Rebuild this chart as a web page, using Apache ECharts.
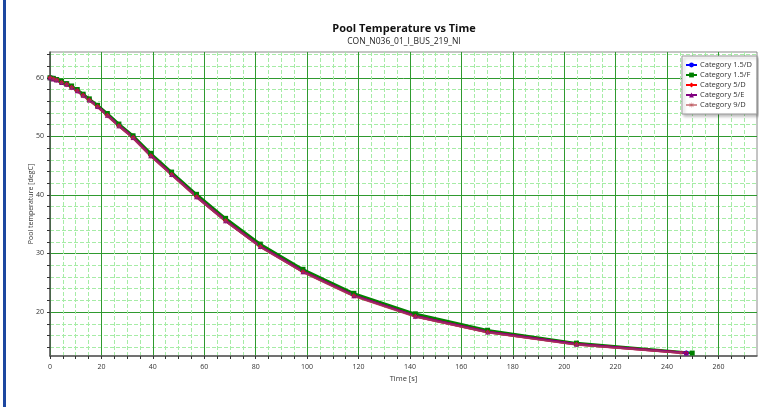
<!DOCTYPE html>
<html lang="en">
<head>
    <meta charset="UTF-8">
    <title>Pool Temperature vs Time</title>
    <script type="text/javascript" src="https://cdn.jsdelivr.net/npm/echarts@6/dist/echarts.min.js"></script>
</head>
<body style="margin:0;width:759px;height:407px;background:#fff">

<div id="main" style="width:759px;height:407px"></div>

<script type="text/javascript">
    // time points [s]
    var timeMain = [0, 1.3, 2.6, 4.5, 6.5, 8.4, 10.6, 12.9, 15.3, 18.5, 22.3, 26.8, 32.3, 39.2, 47.3, 57.0, 68.3, 81.8, 98.4, 118.2, 142.1, 170.2, 204.8, 247.5];
    var time15F = [0, 1.3, 2.6, 4.5, 6.5, 8.4, 10.6, 12.9, 15.3, 18.5, 22.3, 26.8, 32.3, 39.2, 47.3, 57.0, 68.3, 81.8, 98.4, 118.2, 142.1, 170.2, 204.8, 249.8];
    var time9D = [0, 1.3, 2.6, 4.5, 6.5, 8.4, 10.6, 12.9, 15.3, 18.5, 22.3, 26.8, 32.3, 39.2, 47.3, 57.0, 68.3, 81.8, 98.4, 118.2, 142.1, 170.2, 204.8, 245.6];

    // pool temperature [degC] per category
    var temp15D = [60.0, 59.9, 59.7, 59.3, 59.0, 58.5, 57.9, 57.1, 56.3, 55.2, 53.8, 52.0, 50.0, 46.9, 43.7, 39.9, 35.8, 31.4, 27.1, 23.0, 19.5, 16.8, 14.6, 13.0];
    var temp15F = [60.0, 59.9, 59.7, 59.4, 59.0, 58.6, 58.0, 57.2, 56.4, 55.3, 53.9, 52.1, 50.1, 47.1, 43.9, 40.1, 36.0, 31.6, 27.3, 23.2, 19.7, 16.9, 14.7, 13.0];
    var temp5D = [60.0, 59.8, 59.6, 59.2, 58.9, 58.4, 57.8, 57.0, 56.2, 55.1, 53.6, 51.8, 49.8, 46.7, 43.5, 39.7, 35.6, 31.2, 26.9, 22.8, 19.3, 16.6, 14.5, 13.0];
    var temp5E = [60.0, 59.8, 59.6, 59.2, 58.9, 58.4, 57.8, 57.0, 56.2, 55.1, 53.6, 51.8, 49.8, 46.7, 43.5, 39.7, 35.6, 31.2, 26.9, 22.8, 19.3, 16.6, 14.5, 13.0];
    var temp9D = [60.0, 59.8, 59.6, 59.2, 58.8, 58.3, 57.7, 56.9, 56.1, 55.0, 53.5, 51.7, 49.7, 46.6, 43.4, 39.6, 35.5, 31.1, 26.8, 22.7, 19.2, 16.5, 14.4, 13.0];

    var categories = ['Category 1.5/D', 'Category 1.5/F', 'Category 5/D', 'Category 5/E', 'Category 9/D'];

    // axis ticks
    var xMajorTicks = [0, 20, 40, 60, 80, 100, 120, 140, 160, 180, 200, 220, 240, 260];
    var xMinorTicks = [0, 5, 10, 15, 20, 25, 30, 35, 40, 45, 50, 55, 60, 65, 70, 75, 80, 85, 90, 95, 100, 105, 110, 115, 120, 125, 130, 135, 140, 145, 150, 155, 160, 165, 170, 175, 180, 185, 190, 195, 200, 205, 210, 215, 220, 225, 230, 235, 240, 245, 250, 255, 260, 265, 270];
    var yMajorTicks = [20, 30, 40, 50, 60];
    var yMinorTicks = [14, 16, 18, 20, 22, 24, 26, 28, 30, 32, 34, 36, 38, 40, 42, 44, 46, 48, 50, 52, 54, 56, 58, 60, 62, 64];

    function pairs(ts, vs) {
        return ts.map(function (t, i) { return [t, vs[i]]; });
    }

    var asterisk = 'path://M0,4.4h10v1.2h-10z M4.4,0h1.2v10h-1.2z M1.2,0.4l8.4,8.4l-0.8,0.8l-8.4,-8.4z M8.8,0.4l0.8,0.8l-8.4,8.4l-0.8,-0.8z';

    var seriesCfg = [
        { data: pairs(timeMain, temp15D), color: '#0000ff', symbol: 'circle', width: 2, opacity: 1 },
        { data: pairs(time15F, temp15F), color: '#008000', symbol: 'rect', width: 2.5, opacity: 1 },
        { data: pairs(timeMain, temp5D), color: '#ff0000', symbol: 'diamond', width: 2.5, opacity: 1 },
        { data: pairs(timeMain, temp5E), color: '#800080', symbol: 'triangle', width: 2.5, opacity: 1 },
        { data: pairs(time9D, temp9D), color: '#b5474f', symbol: asterisk, width: 2, opacity: 0.6 }
    ];

    var font = 'Open Sans';
    var gridMinor = { color: '#a6eca6', width: 1, type: [4, 2] };
    var gridMajor = { color: '#2f9a2f', width: 1 };

    var myChart = echarts.init(document.getElementById('main'));

    myChart.setOption({
        animation: false,
        backgroundColor: '#fff',
        title: {
            text: 'Pool Temperature vs Time',
            subtext: 'CON_N036_01_I_BUS_219_NI',
            left: 399,
            top: 18,
            textAlign: 'center',
            itemGap: 3,
            textStyle: { fontFamily: font, fontSize: 11, fontWeight: 'bold', color: '#111' },
            subtextStyle: { fontFamily: font, fontSize: 8.5, color: '#222' }
        },
        legend: {
            orient: 'vertical',
            left: 682,
            top: 56,
            padding: [5, 5, 5, 3],
            itemWidth: 11,
            itemHeight: 6,
            itemGap: 2,
            backgroundColor: '#fff',
            borderColor: '#999',
            borderWidth: 1,
            shadowColor: 'rgba(0,0,0,0.25)',
            shadowBlur: 3,
            shadowOffsetX: 2,
            shadowOffsetY: 2,
            textStyle: { fontFamily: font, fontSize: 7.5, color: '#333', padding: [0, 0, 0, -2] },
            data: categories
        },
        grid: {
            left: 50,
            top: 52,
            right: 2,
            bottom: 51,
            show: true,
            borderColor: '#8a8a8a',
            borderWidth: 1
        },
        xAxis: [{
            type: 'value',
            min: 0,
            max: 275,
            name: 'Time [s]',
            nameLocation: 'middle',
            nameGap: 18,
            nameTextStyle: { fontFamily: font, fontSize: 7.5, color: '#333' },
            axisLine: { lineStyle: { color: '#555', width: 1.5 } },
            axisTick: { customValues: xMinorTicks, length: 3, lineStyle: { color: '#333' } },
            axisLabel: { customValues: xMajorTicks, fontFamily: font, fontSize: 7, color: '#333', margin: 7 },
            splitLine: { show: true, lineStyle: gridMinor }
        }, {
            type: 'value',
            min: 0,
            max: 275,
            position: 'bottom',
            axisLine: { show: false },
            axisTick: { show: false, customValues: xMajorTicks },
            axisLabel: { show: false },
            splitLine: { show: true, lineStyle: gridMajor }
        }],
        yAxis: [{
            type: 'value',
            min: 12.5,
            max: 64.4,
            name: 'Pool temperature [degC]',
            nameLocation: 'middle',
            nameGap: 16,
            nameMoveOverlap: false,
            nameTextStyle: { fontFamily: font, fontSize: 7, color: '#333' },
            axisLine: { show: true, lineStyle: { color: '#555', width: 1.5 } },
            axisTick: { show: true, customValues: yMinorTicks, length: 3, lineStyle: { color: '#333' } },
            axisLabel: { customValues: yMajorTicks, fontFamily: font, fontSize: 7, color: '#333', margin: 6 },
            splitLine: { show: true, lineStyle: gridMinor }
        }, {
            type: 'value',
            min: 12.5,
            max: 64.4,
            position: 'left',
            axisLine: { show: false },
            axisTick: { show: false, customValues: yMajorTicks },
            axisLabel: { show: false },
            splitLine: { show: true, lineStyle: gridMajor }
        }],
        graphic: [{
            type: 'rect',
            shape: { x: 3, y: 0, width: 3, height: 407 },
            style: { fill: '#1d47a0' }
        }],
        series: seriesCfg.map(function (s, i) {
            return {
                name: categories[i],
                type: 'line',
                xAxisIndex: 0,
                yAxisIndex: 0,
                data: s.data,
                symbol: s.symbol,
                symbolSize: 5,
                showSymbol: true,
                color: s.color,
                lineStyle: { width: s.width, color: s.color, opacity: s.opacity },
                itemStyle: { color: s.color, opacity: s.opacity }
            };
        })
    });
</script>
</body>
</html>
